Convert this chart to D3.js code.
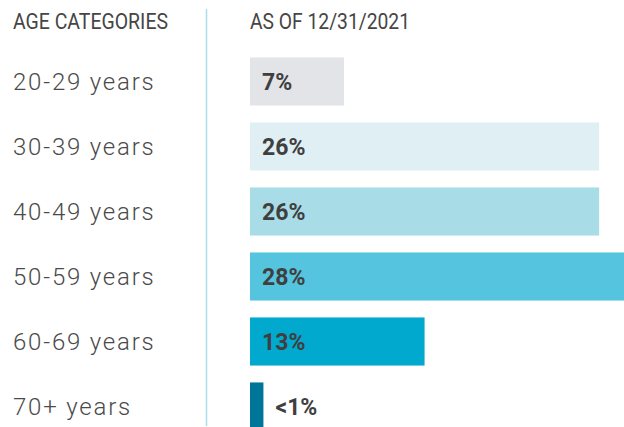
<!DOCTYPE html>
<html>
<head>
<meta charset="utf-8">
<script src="https://cdn.jsdelivr.net/npm/d3@7"></script>
<style>
  html, body { margin: 0; padding: 0; background: #fff; }
  svg { display: block; }
</style>
</head>
<body>
<svg id="chart" width="624" height="427"></svg>
<script>
// Age distribution as of 12/31/2021
const categories = ["20-29 years", "30-39 years", "40-49 years", "50-59 years", "60-69 years", "70+ years"];
const values = [7, 26, 26, 28, 13, 1];
const valueLabels = ["7%", "26%", "26%", "28%", "13%", "<1%"];
const barColors = ["#e3e4e8", "#dfeff4", "#a8dde8", "#55c4df", "#00a9cd", "#00759a"];
const headers = ["AGE CATEGORIES", "AS OF 12/31/2021"];

const svg = d3.select("#chart");

const x = d3.scaleLinear().domain([0, 28]).range([250, 626]);
const y = d3.scaleBand().domain(categories).range([49, 439]).paddingInner(0.26).paddingOuter(0.13);

// column headers
svg.append("text")
  .attr("x", 13).attr("y", 29)
  .attr("textLength", 155).attr("lengthAdjust", "spacingAndGlyphs")
  .style("font-family", "Roboto").style("font-size", "22px").style("font-weight", 400)
  .style("fill", "#454545")
  .text(headers[0]);
svg.append("text")
  .attr("x", 250).attr("y", 29)
  .attr("textLength", 160).attr("lengthAdjust", "spacingAndGlyphs")
  .style("font-family", "Roboto").style("font-size", "22px").style("font-weight", 400)
  .style("fill", "#454545")
  .text(headers[1]);

// divider
svg.append("line")
  .attr("x1", 206.5).attr("x2", 206.5).attr("y1", 9).attr("y2", 426)
  .style("stroke", "#a9dfe9").style("stroke-width", 1.5);

// category labels
svg.selectAll("text.cat").data(categories).join("text")
  .attr("class", "cat")
  .attr("x", 13)
  .attr("y", d => y(d) + y.bandwidth() / 2 + 8.5)
  .style("font-family", "Roboto").style("font-size", "24px").style("font-weight", 300)
  .style("letter-spacing", "1.8px")
  .style("fill", "#4a4a4a")
  .text(d => d);

// bars
svg.selectAll("rect.bar").data(values).join("rect")
  .attr("class", "bar")
  .attr("x", x(0))
  .attr("y", (d, i) => y(categories[i]))
  .attr("width", d => x(d) - x(0))
  .attr("height", y.bandwidth())
  .style("fill", (d, i) => barColors[i]);

// value labels: inside the bar when it is wide enough, otherwise just past its end
svg.selectAll("text.val").data(values).join("text")
  .attr("class", "val")
  .attr("x", d => (x(d) - x(0) > 60 ? x(0) + 12 : x(d) + 12))
  .attr("y", (d, i) => y(categories[i]) + y.bandwidth() / 2 + 8.5)
  .style("font-family", "Roboto").style("font-size", "23px").style("font-weight", 700)
  .style("fill", "#3f3f3f")
  .text((d, i) => valueLabels[i]);
</script>
</body>
</html>
